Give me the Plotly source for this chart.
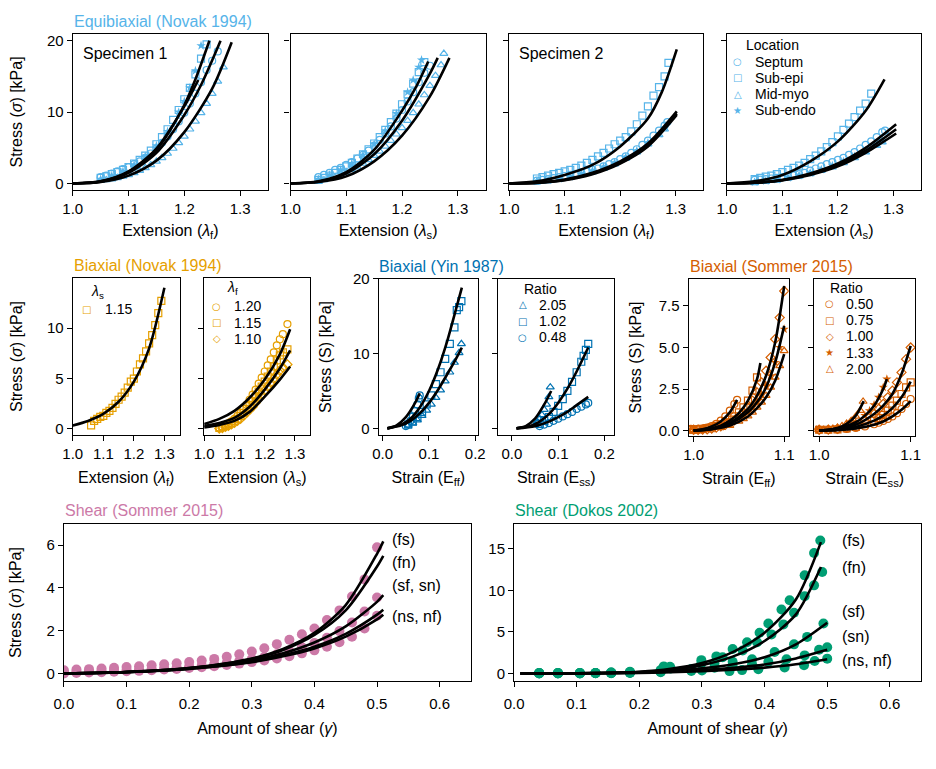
import plotly.graph_objects as go

W, H = 936, 769
FONT = "Liberation Sans, Arial, sans-serif"
SKY = "#56B4E9"; ORANGE = "#E69F00"; BLUE = "#0072B2"
VERM = "#D55E00"; PINK = "#CC79A7"; GREEN = "#009E73"

# ---------------- DATA ----------------
# Equibiaxial (Novak 1994), Specimen 1, lambda_f
p1_sep_x = [1.05,1.06,1.07,1.08,1.09,1.10,1.11,1.12,1.13,1.14,1.15,1.16,1.17,1.18,1.19,1.20,1.21,1.22,1.23,1.24,1.25,1.26]
p1_sep_y = [0.9,1.1,1.4,1.7,2.0,2.3,2.7,3.1,3.6,4.2,4.9,5.7,6.6,7.6,8.7,9.9,11.2,12.6,14.2,15.9,17.2,18.5]
p1_epi_x = [1.05,1.06,1.07,1.08,1.09,1.10,1.11,1.12,1.13,1.14,1.15,1.16,1.17,1.18,1.19,1.20,1.21,1.22,1.23,1.24]
p1_epi_y = [0.8,1.0,1.3,1.6,1.9,2.3,2.8,3.3,3.9,4.6,5.5,6.5,7.6,8.9,10.3,11.8,13.4,15.3,17.5,19.5]
p1_mid_x = [1.05,1.06,1.07,1.08,1.09,1.10,1.11,1.12,1.13,1.14,1.15,1.16,1.17,1.18,1.19,1.20,1.21,1.22,1.23,1.24,1.25,1.26,1.27]
p1_mid_y = [0.4,0.5,0.6,0.8,1.0,1.2,1.5,1.8,2.2,2.6,3.1,3.6,4.2,4.9,5.7,6.6,7.6,8.7,9.9,11.2,12.6,14.3,16.3]
p1_endo_x = [1.05,1.07,1.09,1.11,1.13,1.15,1.17,1.19,1.20,1.21,1.22,1.23]
p1_endo_y = [0.6,1.1,1.7,2.6,3.8,5.3,7.3,10.0,11.5,13.4,15.8,19.3]
p1_fitA_x = [1.0,1.05,1.1,1.15,1.2,1.22,1.245]
p1_fitA_y = [0.0,0.3,1.6,4.7,11.0,14.6,20.0]
p1_fitB_x = [1.0,1.05,1.1,1.15,1.2,1.23,1.265]
p1_fitB_y = [0.0,0.25,1.5,4.3,9.6,13.8,20.0]
p1_fitC_x = [1.0,1.05,1.1,1.15,1.2,1.25,1.285]
p1_fitC_y = [0.0,0.2,1.1,3.2,7.2,13.3,19.8]
p1_fitD_x = [1.0,1.05,1.1,1.15,1.2,1.225]
p1_fitD_y = [0.0,0.3,1.7,4.9,10.8,14.5]

# Specimen 1, lambda_s
p2_sep_x = [1.05,1.06,1.07,1.08,1.09,1.10,1.11,1.12,1.13,1.14,1.15,1.16,1.17,1.18,1.19,1.20,1.21,1.22,1.23,1.24,1.25]
p2_sep_y = [0.9,1.2,1.5,1.9,2.2,2.6,3.0,3.5,4.0,4.6,5.3,6.1,7.0,8.0,9.1,10.3,11.5,12.8,14.2,15.5,16.5]
p2_epi_x = [1.05,1.06,1.07,1.08,1.09,1.10,1.11,1.12,1.13,1.14,1.15,1.16,1.17,1.18,1.19,1.20,1.21,1.22,1.23,1.24]
p2_epi_y = [0.5,0.8,1.1,1.5,1.9,2.4,2.9,3.5,4.1,4.8,5.6,6.5,7.5,8.6,9.8,11.1,12.5,14.0,15.6,17.0]
p2_mid_x = [1.05,1.06,1.07,1.08,1.09,1.10,1.11,1.12,1.13,1.14,1.15,1.16,1.17,1.18,1.19,1.20,1.21,1.22,1.23,1.24,1.25,1.26,1.27,1.275]
p2_mid_y = [0.3,0.5,0.7,0.9,1.2,1.5,1.9,2.3,2.8,3.3,3.9,4.5,5.2,6.0,6.9,7.8,8.8,9.9,11.1,12.4,13.7,15.1,16.6,18.2]
p2_endo_x = [1.05,1.07,1.09,1.11,1.13,1.15,1.17,1.19,1.21,1.22,1.23,1.235]
p2_endo_y = [0.6,1.2,1.9,2.8,4.0,5.5,7.4,9.8,12.8,14.5,16.3,17.3]
p2_fitA_x = [1.0,1.05,1.1,1.15,1.2,1.225,1.247]
p2_fitA_y = [0.0,0.3,1.6,4.7,10.2,13.5,17.1]
p2_fitB_x = [1.0,1.05,1.1,1.15,1.2,1.25,1.264]
p2_fitB_y = [0.0,0.25,1.4,4.1,8.8,15.4,17.6]
p2_fitC_x = [1.0,1.05,1.1,1.15,1.2,1.25,1.285]
p2_fitC_y = [0.0,0.2,1.0,3.1,6.7,12.2,17.6]

# Specimen 2, lambda_f
p3_sep_x = [1.05,1.06,1.07,1.08,1.09,1.10,1.11,1.12,1.13,1.14,1.15,1.16,1.17,1.18,1.19,1.20,1.21,1.22,1.23,1.24,1.25,1.26,1.27,1.28,1.285]
p3_sep_y = [0.4,0.5,0.6,0.75,0.9,1.05,1.2,1.35,1.5,1.7,1.9,2.1,2.4,2.7,3.0,3.4,3.8,4.3,4.8,5.4,6.0,6.7,7.4,8.1,8.6]
p3_epi_x = [1.05,1.06,1.07,1.08,1.09,1.10,1.11,1.12,1.13,1.14,1.15,1.16,1.17,1.18,1.19,1.20,1.21,1.22,1.23,1.24,1.25,1.26,1.27,1.28,1.287]
p3_epi_y = [0.7,0.9,1.1,1.3,1.5,1.7,1.9,2.2,2.5,2.9,3.3,3.8,4.3,4.9,5.5,6.0,6.5,7.3,8.3,9.5,10.8,12.3,13.5,15.0,16.9]
p3_mid_x = [1.05,1.07,1.09,1.11,1.13,1.15,1.17,1.19,1.21,1.23,1.25,1.27,1.28]
p3_mid_y = [0.2,0.35,0.55,0.85,1.2,1.6,2.1,2.7,3.5,4.4,5.5,6.8,7.6]
p3_endo_x = [1.05,1.07,1.09,1.11,1.13,1.15,1.17,1.19,1.21,1.23,1.25,1.27,1.28]
p3_endo_y = [0.3,0.45,0.65,0.95,1.3,1.75,2.3,2.9,3.7,4.6,5.7,7.0,7.8]
p3_fitU_x = [1.0,1.05,1.1,1.15,1.2,1.25,1.275,1.302]
p3_fitU_y = [0.0,0.3,1.2,2.6,5.2,9.1,12.8,18.8]
p3_fitL_x = [1.0,1.05,1.1,1.15,1.2,1.25,1.302]
p3_fitLa_y = [0.0,0.1,0.55,1.5,3.1,5.6,10.1]
p3_fitLb_y = [0.0,0.1,0.5,1.4,2.9,5.3,9.8]
p3_fitLc_y = [0.0,0.08,0.45,1.3,2.8,5.2,9.6]

# Specimen 2, lambda_s
p4_sep_x = [1.05,1.06,1.07,1.08,1.09,1.10,1.11,1.12,1.13,1.14,1.15,1.16,1.17,1.18,1.19,1.20,1.21,1.22,1.23,1.24,1.25,1.26,1.27,1.28,1.285]
p4_sep_y = [0.5,0.55,0.6,0.7,0.8,0.9,1.0,1.15,1.3,1.5,1.8,2.1,2.4,2.7,3.0,3.3,3.6,4.0,4.4,4.9,5.4,5.9,6.5,7.2,7.4]
p4_epi_x = [1.05,1.06,1.07,1.08,1.09,1.10,1.11,1.12,1.13,1.14,1.15,1.16,1.17,1.18,1.19,1.20,1.21,1.22,1.23,1.24,1.25,1.26]
p4_epi_y = [0.6,0.8,0.95,1.1,1.3,1.6,1.9,2.2,2.5,2.9,3.4,3.9,4.5,5.1,5.8,6.6,7.5,8.4,9.3,10.2,11.2,12.6]
p4_mid_x = [1.05,1.07,1.09,1.11,1.13,1.15,1.17,1.19,1.21,1.23,1.25,1.27,1.28]
p4_mid_y = [0.1,0.25,0.45,0.7,1.0,1.35,1.8,2.3,2.9,3.6,4.4,5.3,5.8]
p4_endo_x = [1.05,1.07,1.09,1.11,1.13,1.15,1.17,1.19,1.21,1.23,1.25,1.27,1.28]
p4_endo_y = [0.2,0.35,0.55,0.8,1.1,1.5,1.95,2.5,3.1,3.8,4.6,5.5,6.0]
p4_fitU_x = [1.0,1.05,1.1,1.15,1.2,1.25,1.284]
p4_fitU_y = [0.0,0.3,1.2,3.1,5.9,10.2,14.6]
p4_fitL_x = [1.0,1.05,1.1,1.15,1.2,1.25,1.305]
p4_fitLa_y = [0.0,0.1,0.5,1.4,2.8,5.0,8.3]
p4_fitLb_y = [0.0,0.1,0.45,1.2,2.4,4.3,7.0]
p4_fitLc_y = [0.0,0.1,0.47,1.3,2.6,4.6,7.6]

# Biaxial (Novak 1994): lambda_s = 1.15, x = lambda_f
a_sq_x = [1.06,1.07,1.08,1.09,1.10,1.11,1.12,1.13,1.14,1.15,1.16,1.17,1.18,1.19,1.20,1.21,1.22,1.23,1.24,1.25,1.26,1.27,1.28,1.29]
a_sq_y = [0.35,0.8,1.0,1.2,1.3,1.6,1.8,2.1,2.5,2.9,3.2,3.6,4.1,4.7,5.0,5.7,6.4,7.0,7.7,8.5,9.3,10.3,11.5,12.7]
a_fit_x = [1.0,1.05,1.1,1.15,1.2,1.25,1.3]
a_fit_y = [0.35,0.8,1.5,2.7,4.7,8.0,14.0]
# lambda_f = 1.20, 1.15, 1.10, x = lambda_s
b_x = [1.05,1.06,1.07,1.08,1.09,1.10,1.11,1.12,1.13,1.14,1.15,1.16,1.17,1.18,1.19,1.20,1.21,1.22,1.23,1.24,1.25,1.26,1.275]
b_120_y = [0.15,0.25,0.4,0.55,0.75,1.0,1.3,1.6,2.0,2.4,2.9,3.4,3.9,4.5,5.1,5.7,6.3,6.9,7.6,8.3,8.9,9.4,10.4]
b_115_y = [0.1,0.2,0.3,0.45,0.6,0.8,1.0,1.3,1.6,2.0,2.4,2.8,3.2,3.7,4.2,4.7,5.2,5.7,6.2,6.8,7.3,7.6,7.9]
b_110_y = [0.05,0.1,0.2,0.3,0.45,0.6,0.8,1.0,1.3,1.6,1.9,2.2,2.6,3.0,3.4,3.8,4.2,4.6,5.0,5.4,5.8,6.1,6.4]
b_fit_x = [1.0,1.05,1.1,1.15,1.2,1.25,1.284]
b_fit120_y = [0.5,1.0,1.8,3.1,4.9,7.4,9.9]
b_fit115_y = [0.3,0.6,1.1,2.2,3.9,6.0,7.8]
b_fit110_y = [0.15,0.4,0.8,1.7,3.2,4.9,6.2]

# Biaxial (Yin 1987): ratios 2.05, 1.02, 0.48
c_tri_x = [0.055,0.065,0.075,0.085,0.095,0.105,0.115,0.125,0.135,0.145,0.155,0.165,0.17]
c_tri_y = [0.4,0.7,1.1,1.7,2.4,3.2,4.1,5.1,6.3,7.5,8.8,10.1,11.3]
c_sq_x = [0.055,0.065,0.075,0.085,0.095,0.105,0.115,0.125,0.135,0.145,0.155,0.16,0.165,0.17]
c_sq_y = [0.5,0.9,1.5,2.2,3.2,4.4,5.9,7.5,9.3,11.3,13.5,15.8,16.2,17.0]
c_ci_x = [0.05,0.055,0.06,0.065,0.07,0.075,0.078,0.08]
c_ci_y = [0.3,0.6,1.0,1.6,2.3,3.2,4.0,4.4]
c_fit205_x = [0.01,0.04,0.06,0.08,0.1,0.12,0.14,0.16,0.171]
c_fit205_y = [0.0,0.4,1.0,2.0,3.4,5.2,7.3,9.5,10.8]
c_fit102_x = [0.01,0.04,0.06,0.08,0.1,0.12,0.14,0.16,0.171]
c_fit102_y = [0.0,0.5,1.3,2.8,5.0,8.0,11.8,16.3,18.8]
c_fit048_x = [0.01,0.03,0.05,0.07,0.08]
c_fit048_y = [0.0,0.4,1.5,3.4,4.7]
d_tri_x = [0.05,0.055,0.06,0.065,0.07,0.075,0.08,0.083]
d_tri_y = [0.5,0.9,1.3,1.8,2.5,3.2,4.2,5.5]
d_sq_x = [0.06,0.07,0.08,0.09,0.10,0.11,0.12,0.13,0.14,0.15,0.155,0.16,0.165]
d_sq_y = [0.6,1.0,1.5,2.2,3.0,3.9,5.0,6.2,7.5,8.9,9.7,10.5,11.3]
d_ci_x = [0.06,0.07,0.08,0.09,0.10,0.11,0.12,0.13,0.14,0.15,0.16,0.165]
d_ci_y = [0.3,0.5,0.7,1.0,1.3,1.6,1.9,2.2,2.6,2.9,3.2,3.4]
d_fit205_x = [0.01,0.03,0.05,0.07,0.085]
d_fit205_y = [0.0,0.3,1.3,3.2,5.0]
d_fit102_x = [0.01,0.04,0.06,0.08,0.1,0.12,0.14,0.165]
d_fit102_y = [0.0,0.3,0.9,1.9,3.4,5.3,7.6,10.8]
d_fit048_x = [0.01,0.05,0.08,0.1,0.12,0.14,0.165]
d_fit048_y = [0.0,0.3,0.9,1.5,2.2,3.1,4.2]

# Biaxial (Sommer 2015): ratios 0.50, 0.75, 1.00, 1.33, 2.00
e_050_x = [0.997,1.0,1.005,1.01,1.015,1.02,1.025,1.03,1.035,1.04,1.045,1.048]
e_050_y = [0.1,0.08,0.1,0.12,0.18,0.27,0.4,0.6,0.85,1.2,1.6,1.85]
e_075_x = [0.997,1.0,1.005,1.01,1.015,1.02,1.025,1.03,1.035,1.04,1.045,1.05,1.055,1.06,1.065,1.07]
e_075_y = [0.05,0.05,0.07,0.1,0.15,0.2,0.28,0.38,0.5,0.66,0.85,1.1,1.4,1.8,2.4,3.2]
e_100_x = [1.0,1.005,1.01,1.015,1.02,1.025,1.03,1.035,1.04,1.045,1.05,1.055,1.06,1.065,1.07,1.075,1.08,1.085,1.09,1.095,1.1]
e_100_y = [0.05,0.05,0.06,0.08,0.12,0.18,0.26,0.35,0.47,0.62,0.82,1.07,1.4,1.8,2.3,2.9,3.6,4.4,5.5,6.8,8.4]
e_133_x = [1.0,1.01,1.02,1.03,1.04,1.05,1.055,1.06,1.065,1.07,1.075,1.08,1.085,1.09,1.095,1.1]
e_133_y = [0.05,0.06,0.1,0.22,0.4,0.7,0.9,1.1,1.4,1.8,2.2,2.7,3.3,4.1,5.0,6.1]
e_200_x = [1.0,1.01,1.02,1.03,1.04,1.05,1.055,1.06,1.065,1.07,1.075,1.08,1.085,1.09,1.095,1.1]
e_200_y = [0.05,0.05,0.08,0.17,0.3,0.55,0.7,0.87,1.1,1.4,1.7,2.1,2.6,3.2,3.9,4.8]
e_fit050_x = [1.0,1.01,1.02,1.03,1.04,1.048]
e_fit050_y = [0.0,0.08,0.25,0.55,1.1,1.85]
e_fit075_x = [1.0,1.01,1.02,1.03,1.04,1.05,1.06,1.07,1.0737]
e_fit075_y = [0.0,0.05,0.15,0.3,0.6,1.05,1.8,3.1,4.07]
e_fit_x = [1.0,1.02,1.04,1.06,1.07,1.08,1.09,1.1]
e_fit100_y = [0.0,0.1,0.45,1.3,2.1,3.3,5.3,8.7]
e_fit133_y = [0.0,0.1,0.4,1.1,1.7,2.6,4.1,6.3]
e_fit200_y = [0.0,0.08,0.3,0.85,1.35,2.0,3.0,4.6]
f_200_x = [0.997,1.0,1.005,1.01,1.015,1.02,1.025,1.03,1.035,1.04,1.045,1.048]
f_200_y = [0.05,0.05,0.06,0.08,0.12,0.18,0.28,0.42,0.6,0.85,1.2,1.75]
f_133_x = [1.0,1.01,1.02,1.03,1.04,1.05,1.055,1.06,1.065,1.07,1.074]
f_133_y = [0.05,0.08,0.15,0.28,0.5,0.9,1.2,1.55,2.0,2.6,3.1]
f_100_x = [1.0,1.01,1.02,1.03,1.04,1.05,1.06,1.065,1.07,1.075,1.08,1.085,1.09,1.095,1.1]
f_100_y = [0.05,0.06,0.1,0.2,0.35,0.6,1.0,1.3,1.6,2.0,2.4,2.9,3.5,4.3,5.0]
f_075_x = [1.0,1.01,1.02,1.03,1.04,1.05,1.06,1.065,1.07,1.075,1.08,1.085,1.09,1.095,1.1]
f_075_y = [0.05,0.05,0.07,0.13,0.22,0.38,0.6,0.75,0.95,1.2,1.5,1.8,2.2,2.6,2.9]
f_050_x = [1.0,1.01,1.02,1.03,1.04,1.05,1.06,1.065,1.07,1.075,1.08,1.085,1.09,1.095,1.1]
f_050_y = [0.05,0.05,0.06,0.1,0.16,0.25,0.38,0.47,0.58,0.7,0.85,1.05,1.3,1.6,1.9]
f_fit200_x = [1.0,1.01,1.02,1.03,1.04,1.0487]
f_fit200_y = [0.0,0.05,0.15,0.4,0.9,1.77]
f_fit133_x = [1.0,1.02,1.04,1.05,1.06,1.07,1.074]
f_fit133_y = [0.0,0.12,0.5,0.9,1.5,2.5,3.1]
f_fit_x = [1.0,1.02,1.04,1.06,1.07,1.08,1.09,1.1]
f_fit100_y = [0.0,0.08,0.35,1.0,1.5,2.2,3.4,5.1]
f_fit075_y = [0.0,0.05,0.22,0.6,0.9,1.35,2.0,2.95]
f_fit050_y = [0.0,0.03,0.13,0.35,0.55,0.85,1.25,1.77]

# Shear (Sommer 2015)
g_x = [0.0,0.02,0.04,0.06,0.08,0.1,0.12,0.14,0.16,0.18,0.2,0.22,0.24,0.26,0.28,0.3,0.32,0.34,0.36,0.38,0.4,0.42,0.44,0.46,0.48,0.5]
g_up_y = [0.15,0.18,0.2,0.23,0.27,0.3,0.34,0.38,0.43,0.48,0.53,0.6,0.68,0.78,0.9,1.03,1.18,1.37,1.58,1.83,2.1,2.5,2.95,3.6,4.4,5.9]
g_mid_y = [0.05,0.07,0.09,0.11,0.13,0.15,0.18,0.21,0.24,0.28,0.32,0.37,0.43,0.5,0.58,0.67,0.77,0.9,1.05,1.22,1.42,1.67,1.98,2.38,2.9,3.55]
g_low_y = [0.0,0.02,0.04,0.06,0.08,0.1,0.12,0.15,0.18,0.21,0.25,0.29,0.34,0.4,0.46,0.53,0.61,0.7,0.81,0.94,1.08,1.25,1.46,1.72,2.1,2.7]
g_fit_x = [0.0,0.1,0.2,0.3,0.35,0.4,0.45,0.5,0.51]
g_fit_fs = [0.0,0.07,0.25,0.7,1.15,1.9,3.2,5.6,6.18]
g_fit_fn = [0.0,0.07,0.25,0.68,1.1,1.8,2.95,5.0,5.5]
g_fit_sf = [0.0,0.07,0.24,0.62,0.95,1.45,2.2,3.35,3.66]
g_fit_ns = [0.0,0.06,0.22,0.55,0.85,1.25,1.85,2.75,2.98]
g_fit_nf = [0.0,0.06,0.21,0.52,0.8,1.17,1.72,2.53,2.75]
g_labels = ["(fs)", "(fn)", "(sf, sn)", "(ns, nf)"]
g_label_y = [6.29, 5.19, 4.12, 2.67]

# Shear (Dokos 2002)
h_fs_x = [0.04,0.07,0.105,0.13,0.155,0.185,0.239,0.249,0.299,0.323,0.349,0.372,0.392,0.406,0.427,0.44,0.464,0.479,0.489]
h_fs_y = [0.05,0.05,0.05,0.05,0.1,0.2,0.85,0.8,1.6,2.05,2.95,3.75,4.9,6.0,7.7,8.8,11.8,14.5,16.0]
h_fn_x = [0.04,0.07,0.105,0.13,0.155,0.185,0.234,0.25,0.299,0.333,0.365,0.388,0.411,0.43,0.447,0.464,0.479,0.492]
h_fn_y = [0.05,0.05,0.05,0.05,0.1,0.15,0.4,0.6,1.2,1.95,2.75,3.75,4.7,5.9,7.3,9.3,10.6,12.2]
h_sf_x = [0.04,0.07,0.105,0.13,0.155,0.185,0.234,0.283,0.32,0.349,0.38,0.416,0.447,0.468,0.494]
h_sf_y = [0.03,0.03,0.03,0.05,0.07,0.12,0.3,0.55,1.2,1.4,1.7,2.57,3.5,4.4,6.0]
h_sn_x = [0.04,0.07,0.105,0.13,0.155,0.185,0.234,0.283,0.32,0.349,0.38,0.406,0.435,0.464,0.487,0.5]
h_sn_y = [0.02,0.02,0.02,0.03,0.05,0.1,0.2,0.45,0.7,0.9,1.1,1.4,1.7,2.17,2.84,3.15]
h_nn_x = [0.04,0.07,0.105,0.13,0.155,0.185,0.234,0.283,0.3,0.344,0.364,0.39,0.432,0.463,0.48,0.5]
h_nn_y = [0.0,0.0,0.0,0.02,0.03,0.06,0.15,0.3,0.35,0.28,0.4,0.5,0.71,1.0,1.5,1.78]
h_fit_x49 = [0.01,0.1,0.2,0.25,0.3,0.35,0.4,0.45,0.49]
h_fit_fs = [0.0,0.02,0.2,0.55,1.25,2.6,4.9,8.9,15.8]
h_fit_fn = [0.0,0.02,0.17,0.45,1.0,2.05,3.9,7.1,12.8]
h_fit_x50 = [0.01,0.1,0.2,0.25,0.3,0.35,0.4,0.45,0.5]
h_fit_sf = [0.0,0.02,0.13,0.32,0.62,1.1,1.95,3.5,6.1]
h_fit_sn = [0.0,0.01,0.1,0.22,0.4,0.68,1.07,1.8,2.84]
h_fit_nn = [0.0,0.01,0.07,0.15,0.27,0.45,0.7,1.1,1.7]
h_labels = ["(fs)", "(fn)", "(sf)", "(sn)", "(ns, nf)"]
h_label_y = [16.0, 12.7, 7.4, 4.4, 1.6]

loc_names = ["Septum", "Sub-epi", "Mid-myo", "Sub-endo"]
lams_names = ["1.15"]
lamf_names = ["1.20", "1.15", "1.10"]
yin_names = ["2.05", "1.02", "0.48"]
som_names = ["0.50", "0.75", "1.00", "1.33", "2.00"]

# ---------------- LAYOUT ----------------
def fx(p): return p / W
def fy(p): return 1 - p / H

# axis id: (left, right, top, bottom) in px, x range, y range, x ticks, y ticks
panels = {
    1: ((64, 263, 25, 184), [1.0, 1.35], [-0.93, 21.0], [1.0, 1.1, 1.2, 1.3], [0, 10, 20]),
    2: ((286, 485, 25, 184), [1.0, 1.35], [-0.93, 21.0], [1.0, 1.1, 1.2, 1.3], [0, 10, 20]),
    3: ((509, 707, 25, 184), [1.0, 1.35], [-0.93, 21.0], [1.0, 1.1, 1.2, 1.3], [0, 10, 20]),
    4: ((731, 929, 25, 184), [1.0, 1.35], [-0.93, 21.0], [1.0, 1.1, 1.2, 1.3], [0, 10, 20]),
    5: ((64, 173, 273, 433), [1.0, 1.35], [-0.62, 15.0], [1.0, 1.1, 1.2, 1.3], [0, 5, 10]),
    6: ((198, 306, 273, 433), [1.0, 1.35], [-0.62, 15.0], [1.0, 1.1, 1.2, 1.3], [0, 5, 10]),
    7: ((376, 477, 274, 433), [-0.0085, 0.2055], [-0.92, 20.0], [0.0, 0.1, 0.2], [0, 10, 20]),
    8: ((498, 616, 274, 433), [-0.029, 0.221], [-0.92, 20.0], [0.0, 0.1, 0.2], [0, 10, 20]),
    9: ((692, 794, 274, 434), [0.9946, 1.105], [-0.34, 9.14], [1.0, 1.1], [0, 2.5, 5, 7.5]),
    10: ((820, 923, 274, 434), [0.9946, 1.105], [-0.34, 9.14], [1.0, 1.1], [0, 2.5, 5, 7.5]),
    11: ((55, 470, 523, 683), [0.0, 0.65], [-0.37, 7.0], [0, 0.1, 0.2, 0.3, 0.4, 0.5, 0.6], [0, 2, 4, 6]),
    12: ((514, 929, 523, 683), [0.0, 0.65], [-0.95, 18.0], [0, 0.1, 0.2, 0.3, 0.4, 0.5, 0.6], [0, 5, 10, 15]),
}
yfmt = {9: ".1f", 10: ".1f"}
ylabels_on = {1, 5, 7, 9, 11, 12}
x_title_standoff = {1: 8, 2: 8, 3: 8, 4: 8, 5: 10, 6: 10, 7: 10, 8: 10, 9: 10, 10: 10, 11: 11, 12: 11}
x_label_standoff = {11: 4, 12: 4}
y_title_standoff = {1: 20, 5: 20, 7: 17, 9: 13, 11: 20}

LF = "Extension (<i>λ</i><sub>f</sub>)"
LS = "Extension (<i>λ</i><sub>s</sub>)"
SIG = "Stress (<i>σ</i>) [kPa]"
SS = "Stress (S) [kPa]"
GAM = "Amount of shear (<i>γ</i>)"
xtitles = {1: LF, 2: LS, 3: LF, 4: LS, 5: LF, 6: LS,
           7: "Strain (E<sub>ff</sub>)", 8: "Strain (E<sub>ss</sub>)",
           9: "Strain (E<sub>ff</sub>)", 10: "Strain (E<sub>ss</sub>)", 11: GAM, 12: GAM}
ytitles = {1: SIG, 5: SIG, 7: SS, 9: SS, 11: SIG}

fig = go.Figure()
layout = dict(width=W, height=H, margin=dict(l=0, r=0, t=0, b=0),
              paper_bgcolor="white", plot_bgcolor="white", showlegend=False,
              font=dict(family=FONT, size=15, color="black"))

for k, ((l, r, t, b), xr, yr, xt, yt) in panels.items():
    xs = "xaxis" if k == 1 else f"xaxis{k}"
    ys = "yaxis" if k == 1 else f"yaxis{k}"
    common = dict(showline=True, linecolor="black", linewidth=1.2, mirror=True,
                  ticks="outside", ticklen=5, tickwidth=1.2, tickcolor="black",
                  showgrid=False, zeroline=False, tickfont=dict(size=15, color="black"))
    xa = dict(common, domain=[fx(l), fx(r)], range=xr, tickvals=xt,
              tickformat=".1f", anchor="y" if k == 1 else f"y{k}",
              title=dict(text=xtitles[k], font=dict(size=16), standoff=x_title_standoff[k]))
    if k in x_label_standoff:
        xa["ticklabelstandoff"] = x_label_standoff[k]
    ya = dict(common, domain=[fy(b), fy(t)], range=yr, tickvals=yt,
              anchor="x" if k == 1 else f"x{k}",
              showticklabels=k in ylabels_on)
    if k in yfmt:
        ya["tickformat"] = yfmt[k]
    if k in ytitles:
        ya["title"] = dict(text=ytitles[k], font=dict(size=16), standoff=y_title_standoff[k])
    layout[xs] = xa
    layout[ys] = ya


def ax(k):
    return ("x" if k == 1 else f"x{k}", "y" if k == 1 else f"y{k}")


def mk(k, x, y, symbol, color, size=7, lw=1.2):
    xa, ya = ax(k)
    fig.add_trace(go.Scatter(x=x, y=y, mode="markers", xaxis=xa, yaxis=ya, hoverinfo="skip",
                             marker=dict(symbol=symbol, color=color, size=size,
                                         line=dict(color=color, width=lw))))


def ln(k, x, y, w=2.6):
    xa, ya = ax(k)
    fig.add_trace(go.Scatter(x=x, y=y, mode="lines", xaxis=xa, yaxis=ya, hoverinfo="skip",
                             line=dict(color="black", width=w, shape="spline", smoothing=0.8)))

# top row
for k, (sx, sy, ex, ey, mx, my, nx, ny) in {
    1: (p1_sep_x, p1_sep_y, p1_epi_x, p1_epi_y, p1_mid_x, p1_mid_y, p1_endo_x, p1_endo_y),
    2: (p2_sep_x, p2_sep_y, p2_epi_x, p2_epi_y, p2_mid_x, p2_mid_y, p2_endo_x, p2_endo_y),
    3: (p3_sep_x, p3_sep_y, p3_epi_x, p3_epi_y, p3_mid_x, p3_mid_y, p3_endo_x, p3_endo_y),
    4: (p4_sep_x, p4_sep_y, p4_epi_x, p4_epi_y, p4_mid_x, p4_mid_y, p4_endo_x, p4_endo_y),
}.items():
    mk(k, sx, sy, "circle-open", SKY)
    mk(k, ex, ey, "square-open", SKY)
    mk(k, mx, my, "triangle-up-open", SKY)
    mk(k, nx, ny, "star", SKY, size=7, lw=0)

ln(1, p1_fitA_x, p1_fitA_y); ln(1, p1_fitB_x, p1_fitB_y); ln(1, p1_fitC_x, p1_fitC_y); ln(1, p1_fitD_x, p1_fitD_y)
ln(2, p2_fitA_x, p2_fitA_y); ln(2, p2_fitB_x, p2_fitB_y); ln(2, p2_fitC_x, p2_fitC_y)
ln(3, p3_fitU_x, p3_fitU_y); ln(3, p3_fitL_x, p3_fitLa_y); ln(3, p3_fitL_x, p3_fitLb_y); ln(3, p3_fitL_x, p3_fitLc_y)
ln(4, p4_fitU_x, p4_fitU_y); ln(4, p4_fitL_x, p4_fitLa_y); ln(4, p4_fitL_x, p4_fitLb_y); ln(4, p4_fitL_x, p4_fitLc_y)

# middle row
mk(5, a_sq_x, a_sq_y, "square-open", ORANGE)
ln(5, a_fit_x, a_fit_y)
mk(6, b_x, b_120_y, "circle-open", ORANGE)
mk(6, b_x, b_115_y, "square-open", ORANGE)
mk(6, b_x, b_110_y, "diamond-open", ORANGE)
ln(6, b_fit_x, b_fit120_y); ln(6, b_fit_x, b_fit115_y); ln(6, b_fit_x, b_fit110_y)

mk(7, c_tri_x, c_tri_y, "triangle-up-open", BLUE)
mk(7, c_sq_x, c_sq_y, "square-open", BLUE)
mk(7, c_ci_x, c_ci_y, "circle-open", BLUE)
ln(7, c_fit205_x, c_fit205_y); ln(7, c_fit102_x, c_fit102_y); ln(7, c_fit048_x, c_fit048_y)
mk(8, d_tri_x, d_tri_y, "triangle-up-open", BLUE)
mk(8, d_sq_x, d_sq_y, "square-open", BLUE)
mk(8, d_ci_x, d_ci_y, "circle-open", BLUE)
ln(8, d_fit205_x, d_fit205_y); ln(8, d_fit102_x, d_fit102_y); ln(8, d_fit048_x, d_fit048_y)

mk(9, e_050_x, e_050_y, "circle-open", VERM)
mk(9, e_075_x, e_075_y, "square-open", VERM)
mk(9, e_100_x, e_100_y, "diamond-open", VERM)
mk(9, e_133_x, e_133_y, "star", VERM, lw=0)
mk(9, e_200_x, e_200_y, "triangle-up-open", VERM)
ln(9, e_fit050_x, e_fit050_y); ln(9, e_fit075_x, e_fit075_y)
ln(9, e_fit_x, e_fit100_y); ln(9, e_fit_x, e_fit133_y); ln(9, e_fit_x, e_fit200_y)
mk(10, f_050_x, f_050_y, "circle-open", VERM)
mk(10, f_075_x, f_075_y, "square-open", VERM)
mk(10, f_100_x, f_100_y, "diamond-open", VERM)
mk(10, f_133_x, f_133_y, "star", VERM, lw=0)
mk(10, f_200_x, f_200_y, "triangle-up-open", VERM)
ln(10, f_fit200_x, f_fit200_y); ln(10, f_fit133_x, f_fit133_y)
ln(10, f_fit_x, f_fit100_y); ln(10, f_fit_x, f_fit075_y); ln(10, f_fit_x, f_fit050_y)

# bottom row
for yy in (g_up_y, g_mid_y, g_low_y):
    mk(11, g_x, yy, "circle", PINK, size=10, lw=0)
for yy in (g_fit_fs, g_fit_fn, g_fit_sf, g_fit_ns, g_fit_nf):
    ln(11, g_fit_x, yy)
for xx, yy in ((h_fs_x, h_fs_y), (h_fn_x, h_fn_y), (h_sf_x, h_sf_y), (h_sn_x, h_sn_y), (h_nn_x, h_nn_y)):
    mk(12, xx, yy, "circle", GREEN, size=10, lw=0)
ln(12, h_fit_x49, h_fit_fs); ln(12, h_fit_x49, h_fit_fn)
ln(12, h_fit_x50, h_fit_sf); ln(12, h_fit_x50, h_fit_sn); ln(12, h_fit_x50, h_fit_nn)

# ---------------- ANNOTATIONS ----------------
ann = []


def txt(x, y, s, size=16, color="black", xanchor="left", fam=FONT):
    ann.append(dict(x=fx(x), y=fy(y), xref="paper", yref="paper", text=s, showarrow=False,
                    xanchor=xanchor, yanchor="middle", borderpad=0,
                    font=dict(size=size, color=color, family=fam)))

# group titles
txt(64, 13, "Equibiaxial (Novak 1994)", color=SKY)
txt(64, 261, "Biaxial (Novak 1994)", color=ORANGE)
txt(375, 262, "Biaxial (Yin 1987)", color=BLUE)
txt(692, 262, "Biaxial (Sommer 2015)", color=VERM)
txt(55, 509, "Shear (Sommer 2015)", color=PINK)
txt(514, 509, "Shear (Dokos 2002)", color=GREEN)
txt(73, 45, "Specimen 1")
txt(518, 45, "Specimen 2")

# legends drawn as text (symbol glyph + label)
SYM = {"o": "○", "s": "□", "^": "△", "D": "◇", "*": "★"}
SYMFONT = "DejaVu Sans"
LEGSIZE = 14
STEP = 16.5


def legend(title, tx, ty, sx, lx, n0, names, syms, color):
    txt(tx, ty, title, size=LEGSIZE)
    for i, (nm, sm) in enumerate(zip(names, syms)):
        yv = n0 + i * STEP
        txt(sx, yv, SYM[sm], size=10, color=color, xanchor="center", fam=SYMFONT)
        txt(lx, yv, nm, size=LEGSIZE)

legend("Location", 749, 37, 742, 759, 53.5, loc_names, ["o", "s", "^", "*"], SKY)
legend("<i>λ</i><sub>s</sub>", 82, 287, 78, 96, 305, lams_names, ["s"], ORANGE)
legend("<i>λ</i><sub>f</sub>", 220, 283, 211, 227, 302, lamf_names, ["o", "s", "D"], ORANGE)
legend("Ratio", 523, 284, 523, 538, 300.5, yin_names, ["^", "s", "o"], BLUE)
legend("Ratio", 835, 283, 836, 851, 299.5, som_names, ["o", "s", "D", "*", "^"], VERM)

# shear curve labels (data coordinates)
for s, yv in zip(g_labels, g_label_y):
    ann.append(dict(x=0.52, y=yv, xref="x11", yref="y11", text=s, showarrow=False,
                    xanchor="left", yanchor="middle", font=dict(size=16, color="black")))
for s, yv in zip(h_labels, h_label_y):
    ann.append(dict(x=0.52, y=yv, xref="x12", yref="y12", text=s, showarrow=False,
                    xanchor="left", yanchor="middle", font=dict(size=16, color="black")))

layout["annotations"] = ann
fig.update_layout(**layout)
fig.write_html("out.html")
